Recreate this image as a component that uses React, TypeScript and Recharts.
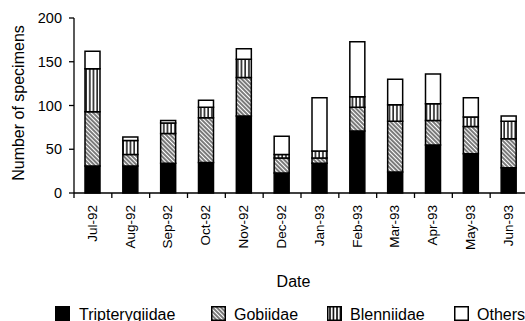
import React from 'react';
import { BarChart, Bar, XAxis, YAxis, Legend, Label } from 'recharts';

const months = ['Jul-92', 'Aug-92', 'Sep-92', 'Oct-92', 'Nov-92', 'Dec-92', 'Jan-93', 'Feb-93', 'Mar-93', 'Apr-93', 'May-93', 'Jun-93'];
const tripterygiidae = [31, 31, 34, 35, 88, 23, 34, 71, 24, 55, 45, 29];
const gobiidae = [62, 13, 34, 51, 44, 17, 6, 27, 58, 28, 31, 33];
const blenniidae = [49, 16, 12, 12, 21, 4, 8, 12, 19, 19, 11, 20];
const others = [20, 4, 3, 8, 12, 21, 61, 63, 29, 34, 22, 6];
const yTicks = [0, 50, 100, 150, 200];

const data = months.map((m, i) => ({
  month: m,
  Tripterygiidae: tripterygiidae[i],
  Gobiidae: gobiidae[i],
  Blenniidae: blenniidae[i],
  Others: others[i],
}));

const FONT = '"Liberation Sans", Arial, Helvetica, sans-serif';
const CHART_W = 528;
const CHART_H = 321;
const Y_W = 74;
const PLOT_W = CHART_W - Y_W;
const BAND = PLOT_W / months.length;

const XTick = (props: any) => {
  const { x, y, payload, index } = props;
  const tx = x + 3.8;
  const ty = y + 12;
  return (
    <g>
      <line x1={x - BAND / 2} x2={x - BAND / 2} y1={y} y2={y + 5} stroke="#000" strokeWidth={1.3} />
      {index === months.length - 1 && (
        <line x1={x + BAND / 2} x2={x + BAND / 2} y1={y} y2={y + 5} stroke="#000" strokeWidth={1.3} />
      )}
      <text
        x={tx}
        y={ty}
        transform={`rotate(-90, ${tx}, ${ty})`}
        textAnchor="end"
        fontSize={13.5}
        fontFamily={FONT}
        fill="#000"
      >
        {payload.value}
      </text>
    </g>
  );
};

const legendItems = [
  { name: 'Tripterygiidae', fill: '#000', sx: 55, tx: 79 },
  { name: 'Gobiidae', fill: 'url(#hatchLeg)', sx: 211, tx: 234 },
  { name: 'Blenniidae', fill: 'url(#vertLeg)', sx: 327, tx: 350 },
  { name: 'Others', fill: '#fff', sx: 454, tx: 477 },
];

const LegendContent = () => (
  <svg width={525} height={21} style={{ display: 'block' }}>
    <defs>
      <pattern id="hatchLeg" patternUnits="userSpaceOnUse" width={3} height={3} patternTransform="rotate(-45)">
        <rect width={3} height={3} fill="#fff" />
        <line x1={1} y1={0} x2={1} y2={3} stroke="#333" strokeWidth={1.3} />
      </pattern>
      <pattern id="vertLeg" patternUnits="userSpaceOnUse" width={3.5} height={4}>
        <rect width={3.5} height={4} fill="#fff" />
        <line x1={1} y1={0} x2={1} y2={4} stroke="#000" strokeWidth={1.6} />
      </pattern>
    </defs>
    {legendItems.map((it) => (
      <g key={it.name}>
        <rect x={it.sx + 0.75} y={6.75} width={13.5} height={13.5} fill={it.fill} stroke="#000" strokeWidth={1.5} />
        <text x={it.tx} y={19.8} fontSize={16} fontFamily={FONT} fill="#000">
          {it.name}
        </text>
      </g>
    ))}
  </svg>
);

export default function App() {
  return (
    <div style={{ position: 'absolute', left: 0, top: 0, width: 525, height: 321, overflow: 'hidden', background: '#fff' }}>
      <BarChart
        width={CHART_W}
        height={CHART_H}
        data={data}
        margin={{ top: 18, right: 0, bottom: 0, left: 0 }}
        barSize={15}
      >
        <defs>
          <pattern id="hatch" patternUnits="userSpaceOnUse" width={3} height={3} patternTransform="rotate(-45)">
            <rect width={3} height={3} fill="#fff" />
            <line x1={1} y1={0} x2={1} y2={3} stroke="#333" strokeWidth={1.3} />
          </pattern>
          <pattern id="vert" patternUnits="userSpaceOnUse" width={3.7} height={4}>
            <rect width={3.7} height={4} fill="#fff" />
            <line x1={1} y1={0} x2={1} y2={4} stroke="#000" strokeWidth={1.4} />
          </pattern>
        </defs>
        <XAxis
          dataKey="month"
          interval={0}
          height={107}
          tickLine={false}
          tickSize={0}
          tickMargin={0}
          axisLine={{ stroke: '#000', strokeWidth: 1.3 }}
          tick={<XTick />}
        >
          <Label
            content={() => (
              <text x={293.5} y={286.7} textAnchor="middle" fontSize={16} fontFamily={FONT} fill="#000">
                Date
              </text>
            )}
          />
        </XAxis>
        <YAxis
          width={Y_W}
          domain={[0, 200]}
          ticks={yTicks}
          interval={0}
          tickSize={5}
          tickMargin={7}
          axisLine={{ stroke: '#000', strokeWidth: 1.3 }}
          tickLine={{ stroke: '#000', strokeWidth: 1.3 }}
          tick={{ fontSize: 14.5, fontFamily: FONT, fill: '#000' }}
        >
          <Label
            content={() => (
              <text
                x={24}
                y={103}
                transform="rotate(-90, 24, 103)"
                textAnchor="middle"
                fontSize={16}
                fontFamily={FONT}
                fill="#000"
              >
                Number of specimens
              </text>
            )}
          />
        </YAxis>
        <Legend
          verticalAlign="bottom"
          content={<LegendContent />}
          wrapperStyle={{ left: 0, width: 525, height: 21 }}
        />
        <Bar dataKey="Tripterygiidae" stackId="a" fill="#000" stroke="#000" strokeWidth={1.5} isAnimationActive={false} />
        <Bar dataKey="Gobiidae" stackId="a" fill="url(#hatch)" stroke="#000" strokeWidth={1.5} isAnimationActive={false} />
        <Bar dataKey="Blenniidae" stackId="a" fill="url(#vert)" stroke="#000" strokeWidth={1.5} isAnimationActive={false} />
        <Bar dataKey="Others" stackId="a" fill="#fff" stroke="#000" strokeWidth={1.5} isAnimationActive={false} />
      </BarChart>
    </div>
  );
}
